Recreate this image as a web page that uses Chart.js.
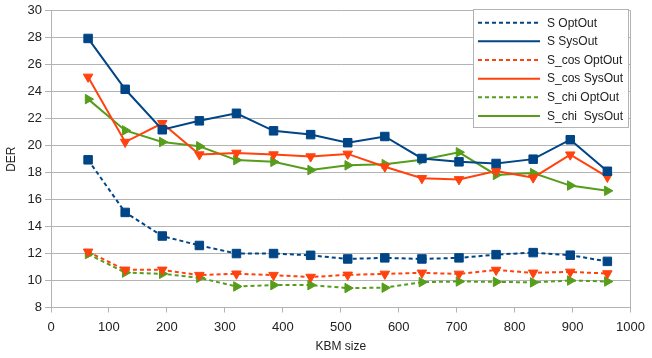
<!DOCTYPE html>
<html>
<head>
<meta charset="utf-8">
<script src="https://cdn.jsdelivr.net/npm/chart.js@4/dist/chart.umd.min.js"></script>
<style>
  html, body { margin: 0; padding: 0; background: #fff; }
  #wrap { width: 652px; height: 358px; }
</style>
</head>
<body>
<div id="wrap"><canvas id="derChart" width="652" height="358"></canvas></div>
<script>
// KBM sizes on the x axis
const kbmSizes = [64, 128, 192, 256, 320, 384, 448, 512, 576, 640, 704, 768, 832, 896, 960];

// DER values
const sOptOut     = [18.95, 15.05, 13.3, 12.6, 12.0, 12.0, 11.87, 11.6, 11.68, 11.6, 11.68, 11.92, 12.07, 11.88, 11.42];
const sSysOut     = [27.95, 24.18, 21.18, 21.84, 22.4, 21.1, 20.82, 20.22, 20.68, 19.05, 18.8, 18.68, 19.0, 20.44, 18.1];
const sCosOptOut  = [12.13, 10.79, 10.79, 10.4, 10.5, 10.4, 10.26, 10.42, 10.49, 10.57, 10.49, 10.78, 10.57, 10.64, 10.52];
const sCosSysOut  = [25.1, 20.27, 21.66, 19.34, 19.46, 19.34, 19.19, 19.39, 18.44, 17.58, 17.5, 18.12, 17.63, 19.33, 17.68];
const sChiOptOut  = [11.96, 10.59, 10.5, 10.2, 9.56, 9.66, 9.66, 9.44, 9.47, 9.88, 9.93, 9.9, 9.86, 10.0, 9.93];
const sChiSysOut  = [23.45, 21.13, 20.27, 19.95, 18.93, 18.8, 18.19, 18.54, 18.63, 18.95, 19.51, 17.83, 17.97, 17.04, 16.65];

const seriesLabels = ['S OptOut', 'S SysOut', 'S_cos OptOut', 'S_cos SysOut', 'S_chi OptOut', 'S_chi  SysOut'];

const blue = '#004586', orange = '#ff420e', green = '#579d1c';
const gridGrey = '#b3b3b3';
const dash = [4, 3];

function series(label, values, color, dashed, style, rotation, radius) {
  return {
    label: label,
    data: values.map((v, i) => ({ x: kbmSizes[i], y: v })),
    borderColor: color,
    backgroundColor: color,
    borderWidth: 2,
    borderDash: dashed ? dash : [],
    pointStyle: style,
    pointRotation: rotation,
    pointRadius: radius,
    pointHoverRadius: radius,
    pointBorderWidth: 1,
    pointBorderColor: color,
    pointBackgroundColor: color,
    tension: 0,
    fill: false
  };
}

// legend drawn inside the plot area, like the original
const innerLegend = {
  id: 'innerLegend',
  afterDraw(chart) {
    const ctx = chart.ctx;
    const x0 = 473.5, y0 = 9.5, w = 155, h = 118;
    ctx.save();
    ctx.fillStyle = '#fff';
    ctx.fillRect(x0, y0, w, h);
    ctx.strokeStyle = gridGrey;
    ctx.lineWidth = 1;
    ctx.strokeRect(x0, y0, w, h);
    ctx.font = '12px "Liberation Sans", Arial, sans-serif';
    ctx.textBaseline = 'middle';
    ctx.textAlign = 'left';
    chart.data.datasets.forEach((ds, i) => {
      const y = 22.7 + i * 18.65;
      ctx.strokeStyle = ds.borderColor;
      ctx.lineWidth = 2;
      ctx.setLineDash(ds.borderDash);
      ctx.beginPath();
      ctx.moveTo(478, y);
      ctx.lineTo(540, y);
      ctx.stroke();
      ctx.setLineDash([]);
      ctx.fillStyle = ds.backgroundColor;
      ctx.strokeStyle = ds.borderColor;
      ctx.lineWidth = 1;
      Chart.helpers.drawPoint(ctx, {
        pointStyle: ds.pointStyle,
        rotation: ds.pointRotation,
        borderWidth: 1
      }, 509, y, ds.pointStyle === 'rect' ? 5 : 4.8);
      ctx.fillStyle = '#222';
      ctx.fillText(ds.label, 547, y + 0.5);
    });
    ctx.restore();
  }
};

new Chart(document.getElementById('derChart'), {
  type: 'line',
  data: {
    datasets: [
      series(seriesLabels[0], sOptOut, blue, true, 'rect', 0, 6),
      series(seriesLabels[1], sSysOut, blue, false, 'rect', 0, 6),
      series(seriesLabels[2], sCosOptOut, orange, true, 'triangle', 180, 5.5),
      series(seriesLabels[3], sCosSysOut, orange, false, 'triangle', 180, 5.5),
      series(seriesLabels[4], sChiOptOut, green, true, 'triangle', 90, 5.5),
      series(seriesLabels[5], sChiSysOut, green, false, 'triangle', 90, 5.5)
    ]
  },
  options: {
    responsive: false,
    animation: false,
    layout: { padding: { top: 9, right: 17, left: 0, bottom: 0 } },
    plugins: {
      legend: { display: false },
      tooltip: { enabled: false }
    },
    scales: {
      x: {
        type: 'linear',
        min: 0,
        max: 1000,
        ticks: { stepSize: 100, color: '#222', padding: 7, maxRotation: 0,
                 callback: v => String(v),
                 font: { family: '"Liberation Sans", Arial, sans-serif', size: 13 } },
        grid: {
          color: ctx => (ctx.tick && ctx.tick.value === 1000) ? gridGrey : 'rgba(0,0,0,0)',
          tickColor: gridGrey,
          tickLength: 5
        },
        border: { color: gridGrey },
        title: { display: true, text: 'KBM size', color: '#222',
                 font: { family: '"Liberation Sans", Arial, sans-serif', size: 12 } },
        afterFit: scale => { scale.height = 50.5; }
      },
      y: {
        min: 8,
        max: 30,
        ticks: { stepSize: 2, color: '#222', padding: 3,
                 font: { family: '"Liberation Sans", Arial, sans-serif', size: 13 } },
        grid: { color: gridGrey, tickColor: gridGrey, tickLength: 6 },
        border: { color: gridGrey },
        title: { display: true, text: 'DER', color: '#222',
                 font: { family: '"Liberation Sans", Arial, sans-serif', size: 12 } },
        afterFit: scale => { scale.width = 51; }
      }
    }
  },
  plugins: [innerLegend]
});
</script>
</body>
</html>
